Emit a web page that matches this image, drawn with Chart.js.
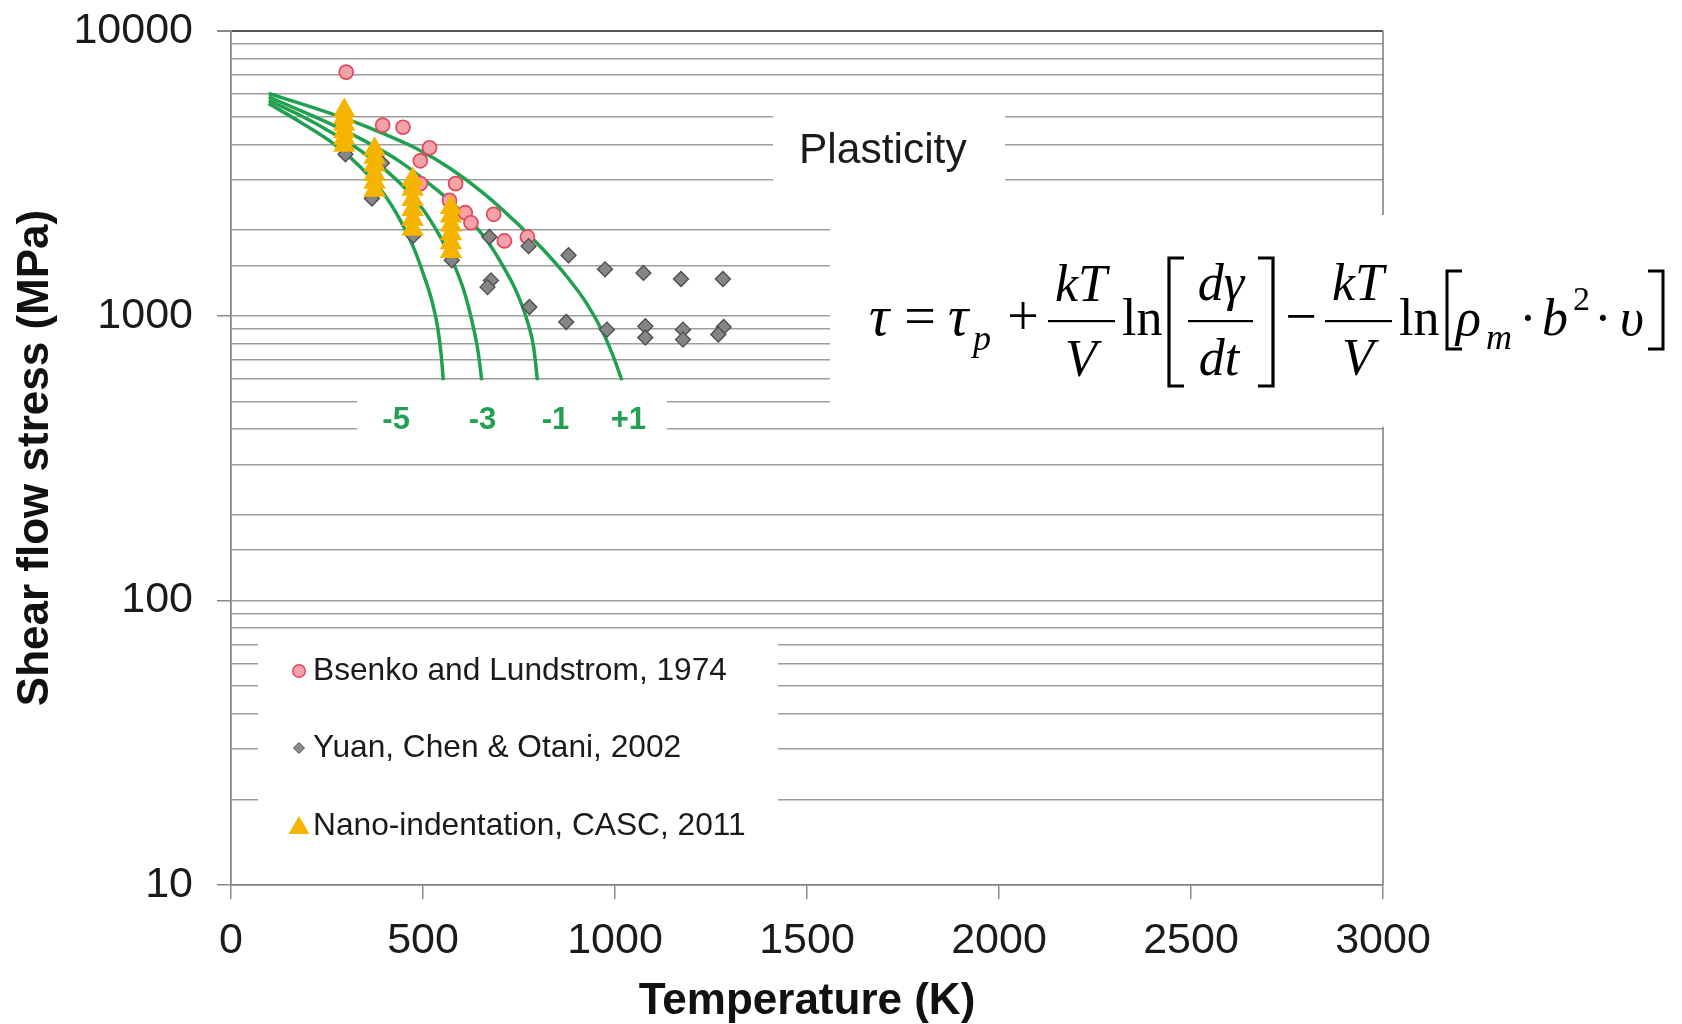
<!DOCTYPE html>
<html>
<head>
<meta charset="utf-8">
<script src="https://cdn.jsdelivr.net/npm/chart.js@4.4.1/dist/chart.umd.min.js"></script>
<style>
  html, body { margin: 0; padding: 0; background: #fff; }
  #wrap { width: 1682px; height: 1024px; }
</style>
</head>
<body>
<div id="wrap"><canvas id="chart" width="1682" height="1024"></canvas></div>
<script>
// tick labels
const xTicks = [0, 500, 1000, 1500, 2000, 2500, 3000];
const yTicks = [10, 100, 1000, 10000];

// Bsenko and Lundstrom, 1974
const bsenkoT   = [300, 395, 448, 517, 493, 493, 585, 569, 610, 625, 684, 712, 772];
const bsenkoTau = [7170, 4670, 4590, 3890, 3500, 2910, 2910, 2540, 2300, 2120, 2270, 1830, 1890];

// Yuan, Chen & Otani, 2002
const yuanT   = [298, 393, 367, 475, 575, 673, 775, 879, 974, 1074, 1172, 1281, 677, 668, 777, 873, 979, 1079, 1079, 1177, 1177, 1283, 1269];
const yuanTau = [3690, 3440, 2580, 1910, 1565, 1890, 1755, 1630, 1455, 1413, 1345, 1345, 1330, 1260, 1073, 950, 893, 918, 838, 893, 824, 913, 859];

// Nano-indentation, CASC, 2011
const nanoT   = [295, 295, 295, 295, 295, 295, 374, 374, 374, 374, 374, 374, 473, 473, 473, 473, 473, 473, 573, 573, 573, 573, 573, 573];
const nanoTau = [5260, 4970, 4700, 4440, 4200, 3970, 3840, 3600, 3380, 3140, 2940, 2760, 3010, 2780, 2560, 2360, 2180, 2010, 2400, 2240, 2080, 1940, 1805, 1680];

// model curves (strain-rate exponent labels)
const curveP1T   = [98, 224, 311, 397, 484, 571, 658, 745, 814, 875, 927, 970, 996, 1018];
const curveP1Tau = [6030, 5330, 4850, 4360, 3860, 3290, 2690, 2110, 1700, 1370, 1100, 865, 716, 593];
const curveM1T   = [98, 180, 267, 354, 441, 527, 606, 666, 710, 745, 771, 788, 798];
const curveM1Tau = [5860, 5260, 4660, 4070, 3470, 2830, 2280, 1840, 1480, 1200, 964, 777, 593];
const curveM3T   = [98, 180, 267, 354, 441, 501, 545, 580, 606, 627, 643, 653];
const curveM3Tau = [5700, 5060, 4360, 3660, 2910, 2350, 1890, 1520, 1230, 963, 755, 593];
const curveM5T   = [98, 180, 267, 337, 397, 441, 475, 501, 523, 538, 547, 553];
const curveM5Tau = [5560, 4790, 4020, 3330, 2690, 2160, 1740, 1400, 1130, 913, 736, 593];

const curveLabels   = ['-5', '-3', '-1', '+1'];
const curveLabelT   = [430, 655, 845, 1035];
const curveLabelTau = 430;

const legendLabels = ['Bsenko and Lundstrom, 1974', 'Yuan, Chen & Otani, 2002', 'Nano-indentation, CASC, 2011'];

const GREEN = '#20a050';
const GRID = '#9d9d9d';

function pts(xs, ys) {
    return xs.map((x, i) => ({ x: x, y: ys[i] }));
}
function isPow10(v) {
    return yTicks.indexOf(v) !== -1;
}

function curve(xs, ys) {
    return {
        data: pts(xs, ys),
        showLine: true,
        borderColor: GREEN,
        borderWidth: 3.5,
        pointRadius: 0,
        cubicInterpolationMode: 'monotone'
    };
}

// white boxes that mask the grid under the annotations
function drawBoxes(chart) {
    const ctx = chart.ctx;
    const a = chart.chartArea;
    ctx.save();
    ctx.strokeStyle = '#7a7a7a';
    ctx.lineWidth = 1.5;
    ctx.beginPath();
    ctx.moveTo(a.right, a.top);
    ctx.lineTo(a.right, a.bottom);
    ctx.stroke();
    ctx.fillStyle = '#fff';
    ctx.fillRect(773, 100, 232, 100);   // Plasticity
    ctx.fillRect(830, 215, 852, 212);   // formula
    ctx.fillRect(357, 384, 310, 71);    // curve labels
    ctx.fillRect(258, 636, 520, 226);   // legend
    ctx.restore();
}

function text(ctx, s, x, y, font, align) {
    ctx.font = font;
    ctx.textAlign = align || 'left';
    ctx.fillText(s, x, y);
}

function hbar(ctx, x1, x2, y) {
    ctx.fillRect(x1, y - 1, x2 - x1, 2.2);
}

function bracket(ctx, x, y1, y2, dir) {
    // dir = 1 for "[", -1 for "]"
    ctx.beginPath();
    ctx.moveTo(x + dir * 15, y1);
    ctx.lineTo(x, y1);
    ctx.lineTo(x, y2);
    ctx.lineTo(x + dir * 15, y2);
    ctx.stroke();
}

function drawFormula(ctx) {
    const it = 'italic 52px "Liberation Serif", "Times New Roman", serif';
    const rm = '52px "Liberation Serif", "Times New Roman", serif';
    const sub = 'italic 36px "Liberation Serif", "Times New Roman", serif';
    ctx.fillStyle = '#000';
    ctx.strokeStyle = '#000';
    ctx.textBaseline = 'alphabetic';
    text(ctx, '\u03C4', 869, 335, 'italic 57px "Liberation Serif", serif');
    text(ctx, '=', 920, 335, '56px "Liberation Serif", serif', 'center');
    text(ctx, '\u03C4', 948, 335, 'italic 57px "Liberation Serif", serif');
    text(ctx, 'p', 973, 350, sub);
    text(ctx, '+', 1023, 335, '56px "Liberation Serif", serif', 'center');
    hbar(ctx, 1048, 1115, 321);
    text(ctx, 'kT', 1081, 301, it, 'center');
    text(ctx, 'V', 1081, 376, it, 'center');
    text(ctx, 'ln', 1122, 335, rm);
    ctx.lineWidth = 3.2;
    bracket(ctx, 1169, 258, 386, 1);
    hbar(ctx, 1188, 1253, 321);
    text(ctx, 'd\u03B3', 1221, 300, it, 'center');
    text(ctx, 'dt', 1219, 375, it, 'center');
    bracket(ctx, 1273, 258, 386, -1);
    text(ctx, '\u2212', 1301, 335, '56px "Liberation Serif", serif', 'center');
    hbar(ctx, 1325, 1392, 321);
    text(ctx, 'kT', 1358, 300, it, 'center');
    text(ctx, 'V', 1358, 375, it, 'center');
    text(ctx, 'ln', 1399, 335, rm);
    ctx.lineWidth = 3;
    bracket(ctx, 1447, 271, 349, 1);
    text(ctx, '\u03C1', 1456, 335, it);
    text(ctx, 'm', 1486, 349, sub);
    text(ctx, '\u00B7', 1528, 335, rm, 'center');
    text(ctx, 'b', 1542, 335, it);
    text(ctx, '2', 1573, 310, '34px "Liberation Serif", serif');
    text(ctx, '\u00B7', 1603, 335, rm, 'center');
    text(ctx, '\u03C5', 1620, 335, it);
    bracket(ctx, 1663, 271, 349, -1);
}

function marker(ctx, kind, x, y) {
    ctx.beginPath();
    if (kind === 'circle') {
        ctx.arc(x, y, 6.3, 0, Math.PI * 2);
        ctx.fillStyle = '#f5a3a8';
        ctx.strokeStyle = '#e0485c';
        ctx.lineWidth = 1.5;
        ctx.fill();
        ctx.stroke();
    } else if (kind === 'diamond') {
        ctx.moveTo(x, y - 5.5); ctx.lineTo(x + 5.5, y); ctx.lineTo(x, y + 5.5); ctx.lineTo(x - 5.5, y);
        ctx.closePath();
        ctx.fillStyle = '#8a8a8a';
        ctx.strokeStyle = '#555';
        ctx.lineWidth = 1;
        ctx.fill();
        ctx.stroke();
    } else {
        const r = 12;
        ctx.moveTo(x, y - r);
        ctx.lineTo(x + r * 0.866, y + r / 2);
        ctx.lineTo(x - r * 0.866, y + r / 2);
        ctx.closePath();
        ctx.fillStyle = '#f5b400';
        ctx.fill();
    }
}

const overlay = {
    id: 'overlay',
    beforeDatasetsDraw(chart) {
        drawBoxes(chart);
    },
    afterDatasetsDraw(chart) {
        const ctx = chart.ctx;
        const xs = chart.scales.x, ys = chart.scales.y;
        ctx.save();
        // Plasticity
        ctx.fillStyle = '#1a1a1a';
        ctx.textBaseline = 'alphabetic';
        text(ctx, 'Plasticity', 799, 163, '42.5px "Liberation Sans", Arial, sans-serif');
        // curve labels
        ctx.fillStyle = GREEN;
        ctx.textBaseline = 'middle';
        curveLabels.forEach((s, i) => {
            text(ctx, s, xs.getPixelForValue(curveLabelT[i]), ys.getPixelForValue(curveLabelTau),
                 'bold 31px "Liberation Sans", Arial, sans-serif', 'center');
        });
        // legend
        const kinds = ['circle', 'diamond', 'triangle'];
        const ly = [671, 748, 826];
        legendLabels.forEach((s, i) => {
            marker(ctx, kinds[i], 299, ly[i] + (i === 2 ? 2 : 0));
            ctx.fillStyle = '#1a1a1a';
            ctx.textBaseline = 'middle';
            text(ctx, s, 313, ly[i], '31.7px "Liberation Sans", Arial, sans-serif');
        });
        drawFormula(ctx);
        ctx.restore();
    }
};

const ctx = document.getElementById('chart').getContext('2d');
const chart = new Chart(ctx, {
    type: 'scatter',
    data: {
        datasets: [
            {
                label: legendLabels[2],
                data: pts(nanoT, nanoTau),
                pointStyle: 'triangle',
                pointRadius: 13,
                backgroundColor: '#f5b400',
                borderColor: '#f5b400',
                borderWidth: 0
            },
            {
                label: legendLabels[1],
                data: pts(yuanT, yuanTau),
                pointStyle: 'rectRot',
                pointRadius: 7.5,
                backgroundColor: '#858585',
                borderColor: '#4d4d4d',
                borderWidth: 1.3
            },
            {
                label: legendLabels[0],
                data: pts(bsenkoT, bsenkoTau),
                pointStyle: 'circle',
                pointRadius: 7,
                backgroundColor: '#f5a3a8',
                borderColor: '#e0485c',
                borderWidth: 1.7
            },
            curve(curveP1T, curveP1Tau),
            curve(curveM1T, curveM1Tau),
            curve(curveM3T, curveM3Tau),
            curve(curveM5T, curveM5Tau)
        ]
    },
    options: {
        responsive: false,
        animation: false,
        devicePixelRatio: 1,
        layout: { padding: { left: 0, top: 31, right: 299, bottom: 0 } },
        plugins: {
            legend: { display: false },
            tooltip: { enabled: false }
        },
        scales: {
            x: {
                type: 'linear',
                min: 0,
                max: 3000,
                afterBuildTicks: (s) => { s.ticks = xTicks.map(v => ({ value: v })); },
                afterFit: (s) => { s.height = 139; s.paddingLeft = 0; s.paddingRight = 0; },
                ticks: {
                    font: { family: '"Liberation Sans", Arial, sans-serif', size: 43 },
                    color: '#1a1a1a',
                    padding: 16,
                    maxRotation: 0,
                    callback: (v) => String(v)
                },
                grid: { drawOnChartArea: false, tickLength: 14, tickColor: '#888', lineWidth: 1.5 },
                border: { color: '#888', width: 1.8 },
                title: {
                    display: true,
                    text: 'Temperature (K)',
                    color: '#111',
                    font: { family: '"Liberation Sans", Arial, sans-serif', size: 44, weight: 'bold' },
                    padding: { top: 0, bottom: -4 }
                }
            },
            y: {
                type: 'logarithmic',
                min: 10,
                max: 10000,
                afterFit: (s) => { s.width = 231; s.paddingTop = 0; s.paddingBottom = 0; },
                ticks: {
                    autoSkip: false,
                    font: { family: '"Liberation Sans", Arial, sans-serif', size: 43 },
                    color: '#1a1a1a',
                    padding: 24,
                    callback: (v) => isPow10(v) ? String(v) : ''
                },
                grid: {
                    color: (c) => (c.tick && c.tick.value === 10000) ? '#555' : GRID,
                    lineWidth: (c) => (c.tick && c.tick.value === 10000) ? 2 : 1.5,
                    tickLength: 14,
                    tickColor: (c) => (c.tick && isPow10(c.tick.value)) ? '#888' : 'rgba(0,0,0,0)'
                },
                border: { color: '#888', width: 1.8 },
                title: {
                    display: true,
                    text: 'Shear flow stress (MPa)',
                    color: '#111',
                    font: { family: '"Liberation Sans", Arial, sans-serif', size: 44, weight: 'bold' },
                    padding: { top: 9, bottom: 0 }
                }
            }
        }
    },
    plugins: [overlay]
});
</script>
</body>
</html>
